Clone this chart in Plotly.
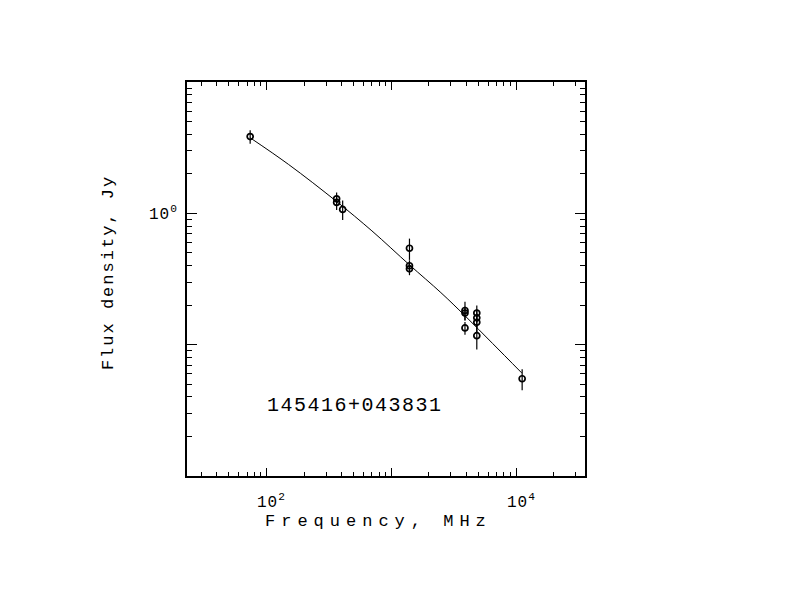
import plotly.graph_objects as go
import math

# measured points
freq_mhz = [74, 365, 365, 408, 1400, 1400, 1400, 3900, 3900, 3900, 4850, 4850, 4850, 4850, 11200]
flux_jy = [3.84, 1.29, 1.21, 1.07, 0.542, 0.399, 0.378, 0.182, 0.174, 0.134, 0.174, 0.160, 0.148, 0.117, 0.055]
flux_err = [0.45, 0.15, 0.15, 0.18, 0.10, 0.04, 0.04, 0.03, 0.02, 0.015, 0.025, 0.025, 0.025, 0.025, 0.010]

# fitted spectrum
fit_freq = [74, 150, 365, 700, 1400, 2500, 3900, 6500, 11100]
fit_flux = [3.76, 2.36, 1.23, 0.735, 0.405, 0.249, 0.166, 0.102, 0.061]

source_name = "145416+043831"
x_title = "Frequency, MHz"
y_title = "Flux density, Jy"
x_decades = [10, 100, 1000, 10000]
x_label_vals = [100, 10000]
x_label_text = ["10<sup>2</sup>", "10<sup>4</sup>"]
y_decades = [0.01, 0.1, 1, 10]
y_label_vals = [1]
y_label_text = ["10<sup>0</sup>"]

FONT = "Liberation Mono"


def minor_ticks(decades):
    lo = decades[0] / 10
    out = []
    for d in [lo] + decades:
        for m in range(2, 10):
            out.append(d * m)
    return out


def spaced(text, px):
    return f'<span style="letter-spacing:{px}px">{text}</span>'


fig = go.Figure()
fig.add_trace(go.Scatter(
    x=fit_freq, y=fit_flux, mode="lines",
    line=dict(color="black", width=1, shape="spline"),
    hoverinfo="skip", showlegend=False))
fig.add_trace(go.Scatter(
    x=freq_mhz, y=flux_jy, mode="markers",
    marker=dict(symbol="circle-open", size=6, color="black", line=dict(width=1.7, color="black")),
    error_y=dict(type="data", array=flux_err, visible=True, color="black", thickness=1.2, width=0),
    showlegend=False))

# source label
fig.add_annotation(
    x=2.708, y=-1.46, xref="x", yref="y", text=spaced(source_name, 1.5),
    showarrow=False, font=dict(family=FONT, size=20, color="black"))

# axis titles
fig.add_annotation(
    x=0.48, y=0, xref="paper", yref="paper", yshift=-45, yanchor="middle",
    text=spaced(x_title, 6), showarrow=False,
    font=dict(family=FONT, size=17, color="black"))
fig.add_annotation(
    x=0, y=0.515, xref="paper", yref="paper", xshift=-79, xanchor="center",
    text=spaced(y_title, 2), textangle=-90, showarrow=False,
    font=dict(family=FONT, size=17, color="black"))

# tick labels
for v, t in zip(x_label_vals, x_label_text):
    fig.add_annotation(
        x=math.log10(v), y=0, xref="x", yref="paper", xanchor="left", yanchor="top",
        xshift=-11, yshift=-13, text=spaced(t, 1), showarrow=False,
        font=dict(family=FONT, size=16, color="black"))
for v, t in zip(y_label_vals, y_label_text):
    fig.add_annotation(
        x=0, y=math.log10(v), xref="paper", yref="y", xanchor="right", yanchor="middle",
        xshift=-7, text=spaced(t, 1), showarrow=False,
        font=dict(family=FONT, size=16, color="black"))

axis_common = dict(
    type="log", showgrid=False, zeroline=False, showline=True, linecolor="black", linewidth=1.5,
    mirror="ticks", ticks="inside", tickcolor="black", tickwidth=1,
    showticklabels=False,
)

fig.update_xaxes(
    **axis_common, range=[1.363, 4.553], ticklen=8,
    tickmode="array", tickvals=x_decades,
    minor=dict(ticks="inside", ticklen=4, tickcolor="black", tickwidth=1,
               tickvals=minor_ticks(x_decades), showgrid=False),
)
fig.update_yaxes(
    **axis_common, range=[-2, 1], ticklen=10,
    tickmode="array", tickvals=y_decades,
    minor=dict(ticks="inside", ticklen=5, tickcolor="black", tickwidth=1,
               tickvals=minor_ticks(y_decades), showgrid=False),
)

fig.update_layout(
    width=792, height=612,
    margin=dict(l=179, r=215, t=74, b=144),
    paper_bgcolor="white", plot_bgcolor="white",
    showlegend=False,
)

fig.write_html("out.html")
